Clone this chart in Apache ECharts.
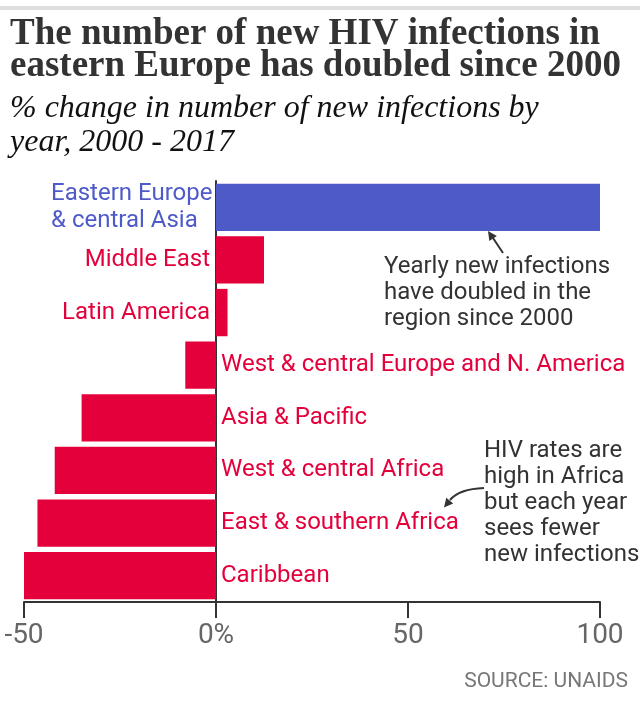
<!DOCTYPE html>
<html>
<head>
<meta charset="utf-8">
<script src="https://cdn.jsdelivr.net/npm/echarts@6/dist/echarts.min.js"></script>
<style>
  html, body { margin: 0; padding: 0; background: #fff; }
  #main { width: 640px; height: 711px; }
</style>
</head>
<body>
<div id="main"></div>
<script>
// regions, top to bottom
var regions = [
  'Eastern Europe\n& central Asia',
  'Middle East',
  'Latin America',
  'West & central Europe and N. America',
  'Asia & Pacific',
  'West & central Africa',
  'East & southern Africa',
  'Caribbean'
];
// % change in new infections, 2000-2017
var change = [100, 12.5, 3, -8, -35, -42, -46.5, -50];
var xTicks = [-50, 0, 50, 100];

var BLUE = '#4f5ac9';
var RED = '#e4003b';
var LABEL_FONT = 'Roboto, "Liberation Sans", sans-serif';

var chart = echarts.init(document.getElementById('main'));

// bars with their own label colour and side
var barData = change.map(function (v, i) {
  var c = i === 0 ? BLUE : RED;
  var label = v >= 0
    ? { position: 'left', distance: 6, color: c }
    : { position: 'right', distance: 5, color: c };
  if (i === 0) {
    // two-line label, left aligned block sitting left of the zero line
    label = { position: [-165, '50%'], align: 'left', verticalAlign: 'middle', color: c, lineHeight: 27 };
  }
  return { value: v, itemStyle: { color: c }, label: label };
});

function arrowHead(tip, dir) {
  var len = 9, w = 4.5;
  var bx = tip[0] - len * dir[0], by = tip[1] - len * dir[1];
  return [tip, [bx + w * dir[1], by - w * dir[0]], [bx - w * dir[1], by + w * dir[0]]];
}

chart.setOption({
  backgroundColor: '#fff',
  animation: false,
  title: [{
    text: 'The number of new HIV infections in\neastern Europe has doubled since 2000',
    left: 5,
    top: 13,
    textStyle: {
      fontFamily: '"Liberation Serif", serif',
      fontWeight: 'bold',
      fontSize: 37,
      lineHeight: 32,
      color: '#333'
    }
  }, {
    text: '% change in number of new infections by\nyear, 2000 - 2017',
    left: 5,
    top: 87,
    textStyle: {
      fontFamily: '"Liberation Serif", serif',
      fontStyle: 'italic',
      fontWeight: 'normal',
      fontSize: 32,
      lineHeight: 34,
      color: '#111'
    }
  }],
  grid: { left: 24, right: 40, top: 181, bottom: 109, containLabel: false },
  xAxis: {
    type: 'value',
    min: -50,
    max: 100,
    interval: 50,
    splitLine: { show: false },
    axisLine: { show: true, lineStyle: { color: '#333', width: 2 } },
    axisTick: { show: true, length: 16, lineStyle: { color: '#333', width: 2 } },
    axisLabel: {
      margin: 20,
      fontFamily: LABEL_FONT,
      fontSize: 28,
      color: '#666',
      formatter: function (v) {
        return xTicks.indexOf(v) < 0 ? '' : (v === 0 ? '0%' : String(v));
      }
    }
  },
  yAxis: {
    type: 'category',
    inverse: true,
    data: regions,
    axisLine: { show: true, onZero: true, lineStyle: { color: '#333', width: 2 } },
    axisTick: { show: false },
    axisLabel: { show: false },
    splitLine: { show: false }
  },
  series: [{
    type: 'bar',
    data: barData,
    barCategoryGap: '10%',
    label: {
      show: true,
      formatter: function (p) { return p.name; },
      fontFamily: LABEL_FONT,
      fontSize: 24
    }
  }],
  graphic: [
    { type: 'rect', shape: { x: 0, y: 6, width: 640, height: 4 }, style: { fill: '#dedede' } },
    {
      type: 'text', left: 384, top: 254,
      style: {
        text: 'Yearly new infections\nhave doubled in the\nregion since 2000',
        font: '24px Roboto, sans-serif', fill: '#333', lineHeight: 26
      }
    },
    {
      type: 'line', shape: { x1: 503, y1: 253, x2: 493, y2: 238 },
      style: { stroke: '#333', lineWidth: 2 }
    },
    {
      type: 'polygon', shape: { points: arrowHead([488, 231], [-0.564, -0.827]) },
      style: { fill: '#333' }
    },
    {
      type: 'text', left: 484, top: 438,
      style: {
        text: 'HIV rates are\nhigh in Africa\nbut each year\nsees fewer\nnew infections',
        font: '24px Roboto, sans-serif', fill: '#333', lineHeight: 26
      }
    },
    {
      type: 'bezierCurve',
      shape: { x1: 484, y1: 488, cpx1: 459, cpy1: 489, x2: 450, y2: 500 },
      style: { stroke: '#333', lineWidth: 2, fill: null }
    },
    {
      type: 'polygon', shape: { points: arrowHead([444, 507.5], [-0.635, 0.773]) },
      style: { fill: '#333' }
    },
    {
      type: 'text', right: 12, top: 671,
      style: { text: 'SOURCE: UNAIDS', font: '21px Roboto, sans-serif', fill: '#777' }
    }
  ]
});
</script>
</body>
</html>
